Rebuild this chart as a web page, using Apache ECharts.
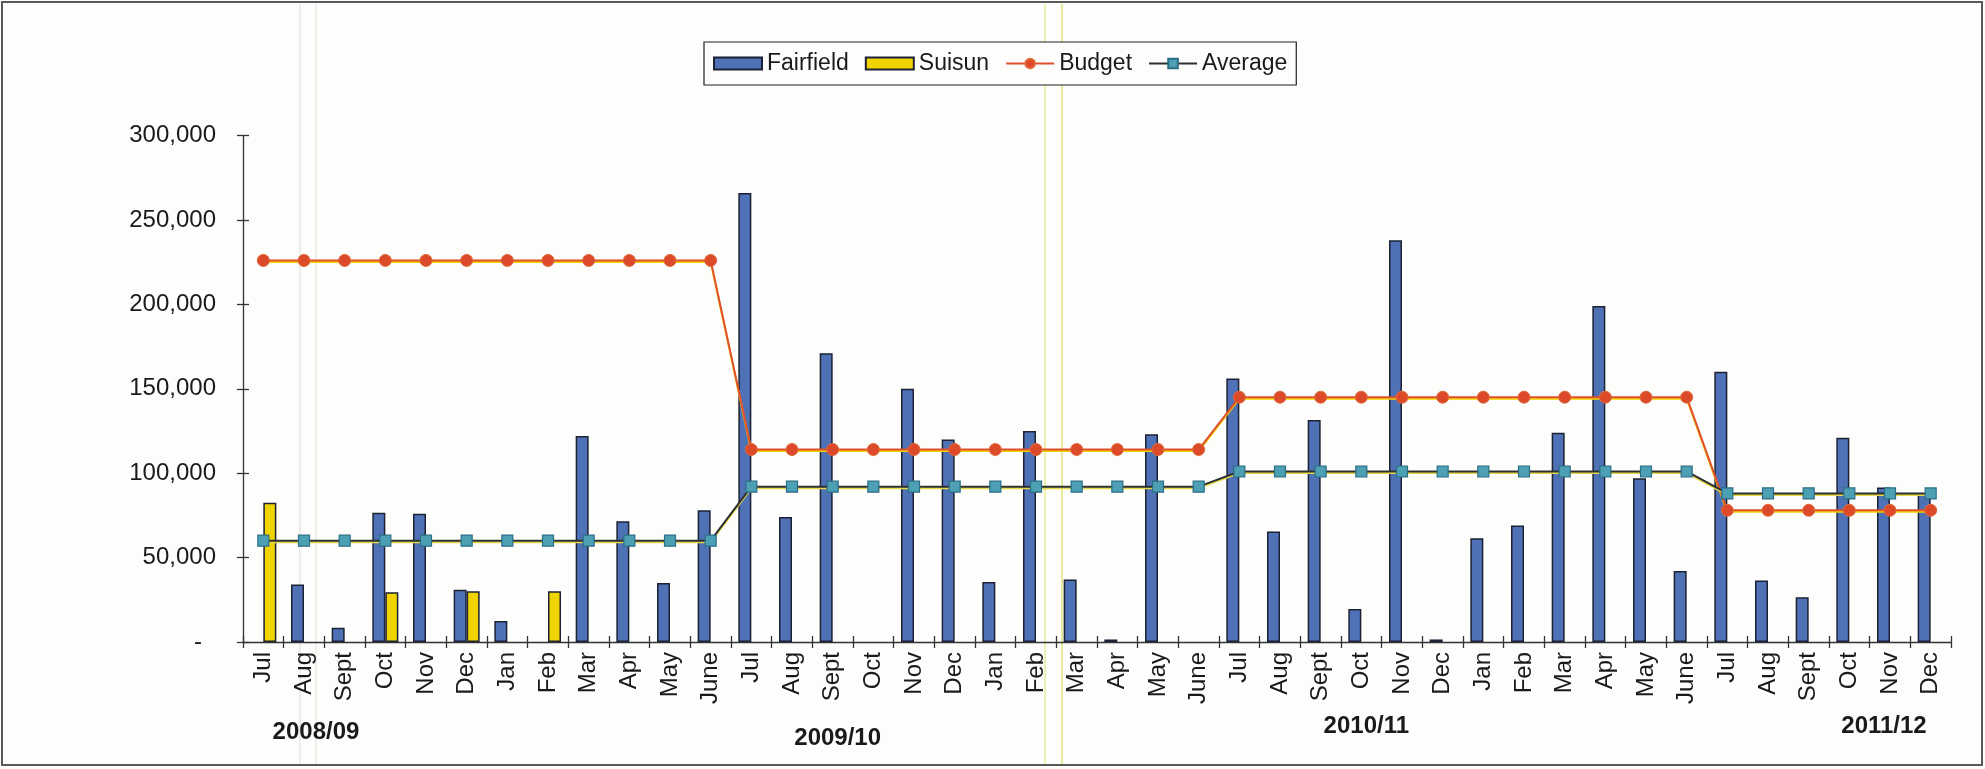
<!DOCTYPE html>
<html>
<head>
<meta charset="utf-8">
<script src="https://cdn.jsdelivr.net/npm/echarts@6/dist/echarts.min.js"></script>
<style>
html,body{margin:0;padding:0;background:#fdfdfc;}
#chart{width:1985px;height:769px;}
</style>
</head>
<body>
<div id="chart"></div>
<script>
// ---- Data ----
const months = [
  'Jul','Aug','Sept','Oct','Nov','Dec','Jan','Feb','Mar','Apr','May','June',
  'Jul','Aug','Sept','Oct','Nov','Dec','Jan','Feb','Mar','Apr','May','June',
  'Jul','Aug','Sept','Oct','Nov','Dec','Jan','Feb','Mar','Apr','May','June',
  'Jul','Aug','Sept','Oct','Nov','Dec'
];
const fairfield = [
  null, 34000, 8500, 76500, 76000, 31000, 12500, null, 122000, 71500, 35000, 78000,
  266000, 74000, 171000, null, 150000, 120000, 35500, 125000, 37000, 1500, 123000, null,
  156000, 65500, 131500, 19500, 238000, 1500, 61500, 69000, 124000, 199000, 97000, 42000,
  160000, 36500, 26500, 121000, 91500, 88000
];
const suisun = [
  82500, null, null, 29500, null, 30000, null, 30000, null, null, null, null,
  null, null, null, null, null, null, null, null, null, null, null, null,
  null, null, null, null, null, null, null, null, null, null, null, null,
  null, null, null, null, null, null
];
const budget = [
  226000, 226000, 226000, 226000, 226000, 226000, 226000, 226000, 226000, 226000, 226000, 226000,
  114000, 114000, 114000, 114000, 114000, 114000, 114000, 114000, 114000, 114000, 114000, 114000,
  145000, 145000, 145000, 145000, 145000, 145000, 145000, 145000, 145000, 145000, 145000, 145000,
  78000, 78000, 78000, 78000, 78000, 78000
];
const average = [
  60000, 60000, 60000, 60000, 60000, 60000, 60000, 60000, 60000, 60000, 60000, 60000,
  92000, 92000, 92000, 92000, 92000, 92000, 92000, 92000, 92000, 92000, 92000, 92000,
  101000, 101000, 101000, 101000, 101000, 101000, 101000, 101000, 101000, 101000, 101000, 101000,
  88000, 88000, 88000, 88000, 88000, 88000
];
const fiscalYears = ['2008/09', '2009/10', '2010/11', '2011/12'];
const fiscalYearLabelIndex = [1, 14, 27, 40];
const yTicks = [0, 50000, 100000, 150000, 200000, 250000, 300000];

// ---- Chart ----
const FONT = 'Liberation Sans, Arial, sans-serif';
const chart = echarts.init(document.getElementById('chart'), null, {renderer: 'canvas'});

const yearLabelFor = (idx) => {
  const k = fiscalYearLabelIndex.indexOf(idx);
  if (k < 0) return '';
  return '{y' + k + '|' + fiscalYears[k] + '}';
};
const yearStyle = (pad) => ({fontSize: 24, fontWeight: 'bold', fontFamily: FONT, color: '#1a1a1a', padding: pad});

const option = {
  backgroundColor: '#fdfdfc',
  animation: false,
  textStyle: {fontFamily: FONT, color: '#1a1a1a'},
  legend: {
    left: 704, top: 42,
    padding: [10, 9],
    itemGap: 16,
    itemWidth: 48, itemHeight: 12,
    borderColor: '#222', borderWidth: 1.2,
    backgroundColor: '#fdfdfc',
    textStyle: {fontFamily: FONT, fontSize: 23, color: '#1a1a1a'},
    data: [
      {name: 'Fairfield', icon: 'rect'},
      {name: 'Suisun', icon: 'rect'},
      {name: 'Budget'},
      {name: 'Average'}
    ]
  },
  grid: {left: 243, right: 34, top: 135.5, bottom: 127, containLabel: false},
  xAxis: [
    {
      type: 'category', data: months, position: 'bottom',
      axisLine: {show: true, lineStyle: {color: '#333', width: 1.3}},
      axisTick: {show: true, length: 6, lineStyle: {color: '#333', width: 1.3}},
      axisLabel: {rotate: 90, interval: 0, margin: 10, fontSize: 24, fontFamily: FONT, color: '#1a1a1a'}
    },
    {
      type: 'category', data: months, position: 'bottom',
      axisLine: {show: false},
      axisTick: {show: true, inside: true, length: 6, lineStyle: {color: '#333', width: 1.3}},
      axisLabel: {show: false}
    },
    {
      type: 'category', data: months, position: 'bottom',
      axisLine: {show: false}, axisTick: {show: false},
      axisLabel: {
        interval: 0, margin: 76, fontSize: 24, fontWeight: 'bold', fontFamily: FONT, color: '#1a1a1a',
        formatter: (v, idx) => yearLabelFor(idx),
        rich: {
          y0: yearStyle([2, 0, 0, 24]),
          y1: yearStyle([8, 0, 0, 10]),
          y2: yearStyle([-4, 0, 0, 10]),
          y3: yearStyle([-4, 12, 0, 0])
        }
      }
    }
  ],
  yAxis: [
    {
      type: 'value', position: 'left',
      min: yTicks[0], max: yTicks[yTicks.length - 1], interval: yTicks[1] - yTicks[0],
      splitLine: {show: false},
      axisLine: {show: true, lineStyle: {color: '#333', width: 1.3}},
      axisTick: {show: true, length: 6, lineStyle: {color: '#333', width: 1.3}},
      axisLabel: {
        margin: 27, fontSize: 24, fontFamily: FONT, color: '#1a1a1a',
        formatter: (v) => v === 0 ? '{d|-}' : v.toLocaleString('en-US'),
        rich: {d: {fontSize: 24, fontFamily: FONT, color: '#1a1a1a', padding: [0, 14, 0, 0]}}
      }
    },
    {
      type: 'value', position: 'left',
      min: yTicks[0], max: yTicks[yTicks.length - 1], interval: yTicks[1] - yTicks[0],
      splitLine: {show: false},
      axisLine: {show: false},
      axisTick: {show: true, inside: true, length: 6, lineStyle: {color: '#333', width: 1.3}},
      axisLabel: {show: false}
    }
  ],
  series: [
    {
      name: 'Fairfield', type: 'bar', data: fairfield,
      barWidth: 13, barGap: '0%',
      itemStyle: {color: '#4f72b6', borderColor: '#1c2133', borderWidth: 1.5}
    },
    {
      name: 'Suisun', type: 'bar', data: suisun,
      barWidth: 13, barGap: '0%',
      itemStyle: {color: '#f0d400', borderColor: '#1c2133', borderWidth: 1.5}
    },
    {
      name: 'Budget', type: 'line', data: budget,
      symbol: 'circle', symbolSize: 12,
      lineStyle: {color: '#e0502c', width: 2, shadowColor: '#f0d200', shadowOffsetY: 1.5, shadowBlur: 0},
      itemStyle: {color: '#dd4a2a', borderColor: '#e06a3a', borderWidth: 1}
    },
    {
      name: 'Average', type: 'line', data: average,
      symbol: 'rect', symbolSize: 11,
      lineStyle: {color: '#2c3030', width: 2, shadowColor: '#e6d84a', shadowOffsetY: 1.5, shadowBlur: 0},
      itemStyle: {color: '#4d9fb3', borderColor: '#2a6f86', borderWidth: 1.2}
    }
  ],
  graphic: [
    {type: 'line', silent: true, z: -1, shape: {x1: 300, y1: 4, x2: 300, y2: 765}, style: {stroke: '#ececea', lineWidth: 2}},
    {type: 'line', silent: true, z: -1, shape: {x1: 316, y1: 4, x2: 316, y2: 765}, style: {stroke: '#efefec', lineWidth: 2}},
    {type: 'line', silent: true, z: -1, shape: {x1: 1045, y1: 4, x2: 1045, y2: 765}, style: {stroke: '#eef0b0', lineWidth: 2}},
    {type: 'line', silent: true, z: -1, shape: {x1: 1062, y1: 4, x2: 1062, y2: 765}, style: {stroke: '#e6ea9a', lineWidth: 2}},
    {type: 'rect', silent: true, z: 100, shape: {x: 2, y: 2, width: 1980, height: 763}, style: {fill: null, stroke: '#5a5a5a', lineWidth: 2}}
  ]
};
chart.setOption(option);
</script>
</body>
</html>
